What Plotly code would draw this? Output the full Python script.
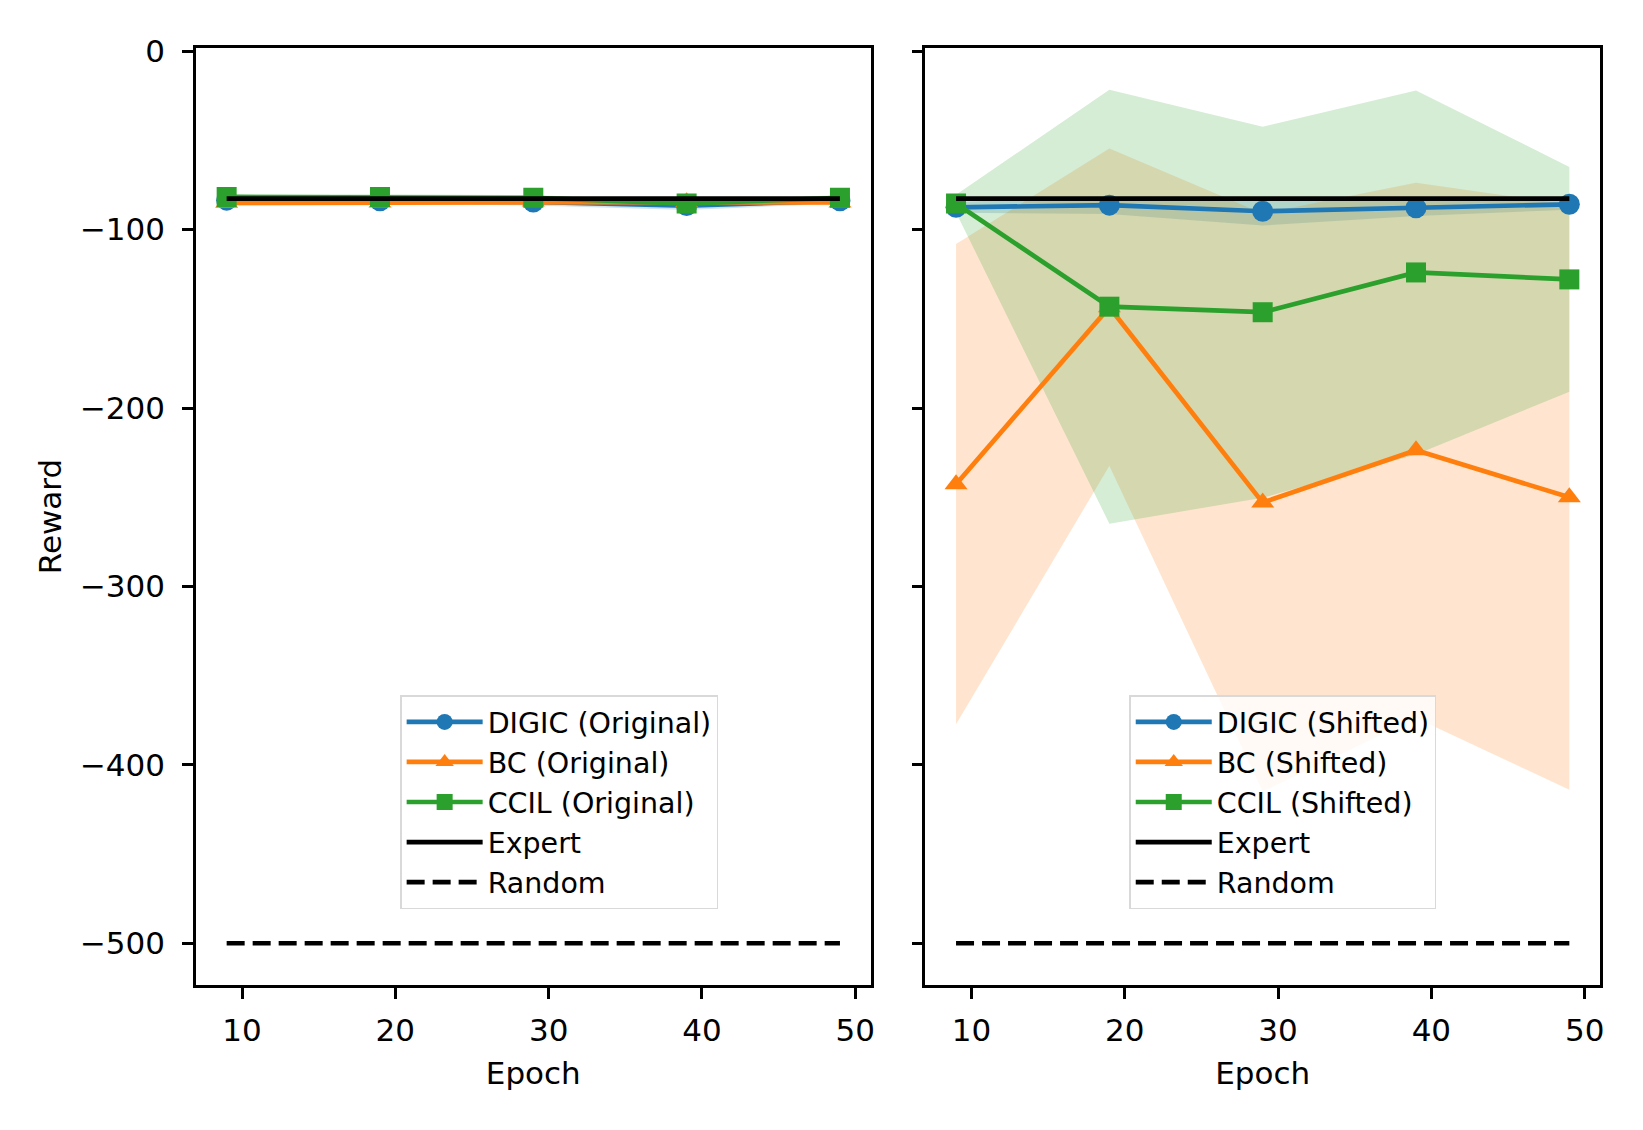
import plotly.graph_objects as go

# ---------------- data ----------------
epochs = [9, 19, 29, 39, 49]

digic_orig_mean = [-83.5, -83.8, -84.5, -86.5, -83.8]
digic_orig_std = [1.5, 1.5, 2.0, 2.5, 1.5]
bc_orig_mean = [-85.0, -84.8, -84.2, -84.6, -84.8]
bc_orig_std = [1.5, 1.5, 1.5, 1.5, 1.5]
ccil_orig_mean = [-81.7, -81.7, -82.2, -85.4, -82.2]
ccil_orig_std = [1.5, 1.5, 1.5, 2.0, 1.5]

digic_shift_mean = [-87.5, -86.3, -89.7, -87.8, -85.8]
digic_shift_std = [3.0, 5.0, 8.0, 4.5, 3.0]
bc_shift_mean = [-242.7, -143.5, -253.0, -223.7, -250.0]
bc_shift_std = [134.6, 88.9, 162.0, 150.0, 164.0]
ccil_shift_mean = [-85.4, -143.2, -146.3, -124.0, -127.9]
ccil_shift_std = [5.0, 121.6, 104.0, 102.0, 63.0]

expert_reward = -82.6
random_reward = -500.0

x_ticks = [10, 20, 30, 40, 50]
y_ticks = [0, -100, -200, -300, -400, -500]
y_ticklabels = ["0", "\u2212100", "\u2212200", "\u2212300", "\u2212400", "\u2212500"]

labels_left = ["DIGIC (Original)", "BC (Original)", "CCIL (Original)", "Expert", "Random"]
labels_right = ["DIGIC (Shifted)", "BC (Shifted)", "CCIL (Shifted)", "Expert", "Random"]

# ---------------- style ----------------
BLUE, ORANGE, GREEN = "#1f77b4", "#ff7f0e", "#2ca02c"
FILL = {BLUE: "rgba(31,119,180,0.2)", ORANGE: "rgba(255,127,14,0.2)", GREEN: "rgba(44,160,44,0.2)"}
FONT = "DejaVu Sans"
FS = 31
LFS = 28.5
LW = 4.7
Y_RANGE = [-523.4, 1.8]

fig = go.Figure()


def add_band(x, m, s, color, xa, ya):
    upper = [a + b for a, b in zip(m, s)]
    lower = [a - b for a, b in zip(m, s)]
    fig.add_trace(go.Scatter(
        x=x + x[::-1], y=upper + lower[::-1], fill="toself", fillcolor=FILL[color],
        mode="lines", line=dict(width=0, color="rgba(0,0,0,0)"), hoverinfo="skip",
        showlegend=False, xaxis=xa, yaxis=ya))


panels = [
    ("x", "y", "legend", labels_left,
     [(digic_orig_mean, digic_orig_std, BLUE, "circle", 21),
      (bc_orig_mean, bc_orig_std, ORANGE, "triangle-up", 20),
      (ccil_orig_mean, ccil_orig_std, GREEN, "square", 20)]),
    ("x2", "y2", "legend2", labels_right,
     [(digic_shift_mean, digic_shift_std, BLUE, "circle", 21),
      (bc_shift_mean, bc_shift_std, ORANGE, "triangle-up", 20),
      (ccil_shift_mean, ccil_shift_std, GREEN, "square", 20)]),
]

for xa, ya, lg, labels, series in panels:
    for m, s, c, sym, ms in series:
        add_band(epochs, m, s, c, xa, ya)
    for (m, s, c, sym, ms), lab in zip(series, labels[:3]):
        fig.add_trace(go.Scatter(
            x=epochs, y=m, mode="lines+markers", name=lab,
            line=dict(color=c, width=LW),
            marker=dict(symbol=sym, size=ms, color=c, line=dict(width=0)),
            xaxis=xa, yaxis=ya, legend=lg))
    fig.add_trace(go.Scatter(
        x=epochs, y=[expert_reward] * len(epochs), mode="lines", name=labels[3],
        line=dict(color="black", width=LW), xaxis=xa, yaxis=ya, legend=lg))
    fig.add_trace(go.Scatter(
        x=epochs, y=[random_reward] * len(epochs), mode="lines", name=labels[4],
        line=dict(color="black", width=LW, dash="18px,8px"), xaxis=xa, yaxis=ya, legend=lg))

axis_common = dict(
    showgrid=False, zeroline=False, showline=True, linecolor="black", linewidth=2.5,
    mirror=True, ticks="outside", ticklen=11, tickwidth=2.5, tickcolor="black",
    tickfont=dict(family=FONT, size=FS, color="black"),
)

xcommon = dict(axis_common, range=[7, 51], tickvals=x_ticks, ticktext=[str(v) for v in x_ticks],
               ticklabelstandoff=5,
               title=dict(text="Epoch", font=dict(family=FONT, size=FS, color="black"), standoff=16))

legend_common = dict(
    font=dict(family=FONT, size=LFS, color="black"), bgcolor="rgba(255,255,255,0.8)",
    bordercolor="#d9d9d9", borderwidth=1.5, yanchor="bottom", xanchor="left",
    itemwidth=76,
)

fig.update_layout(
    width=1643, height=1130,
    paper_bgcolor="white", plot_bgcolor="white",
    margin=dict(l=188, r=51, t=40, b=153),
    font=dict(family=FONT, size=FS, color="black"),
    xaxis=dict(xcommon, domain=[0, 0.4805], anchor="y"),
    xaxis2=dict(xcommon, domain=[0.5195, 1.0], anchor="y2"),
    yaxis=dict(axis_common, range=Y_RANGE, tickvals=y_ticks, ticktext=y_ticklabels,
               anchor="x", ticklabelstandoff=11,
               title=dict(text="Reward", font=dict(family=FONT, size=FS, color="black"), standoff=10)),
    yaxis2=dict(axis_common, range=Y_RANGE, tickvals=y_ticks, ticktext=y_ticklabels,
                anchor="x2", matches="y", showticklabels=False),
    legend=dict(legend_common, x=0.1454, y=0.0807),
    legend2=dict(legend_common, x=0.6647, y=0.0807),
    showlegend=True,
)

fig.write_html("out.html")
